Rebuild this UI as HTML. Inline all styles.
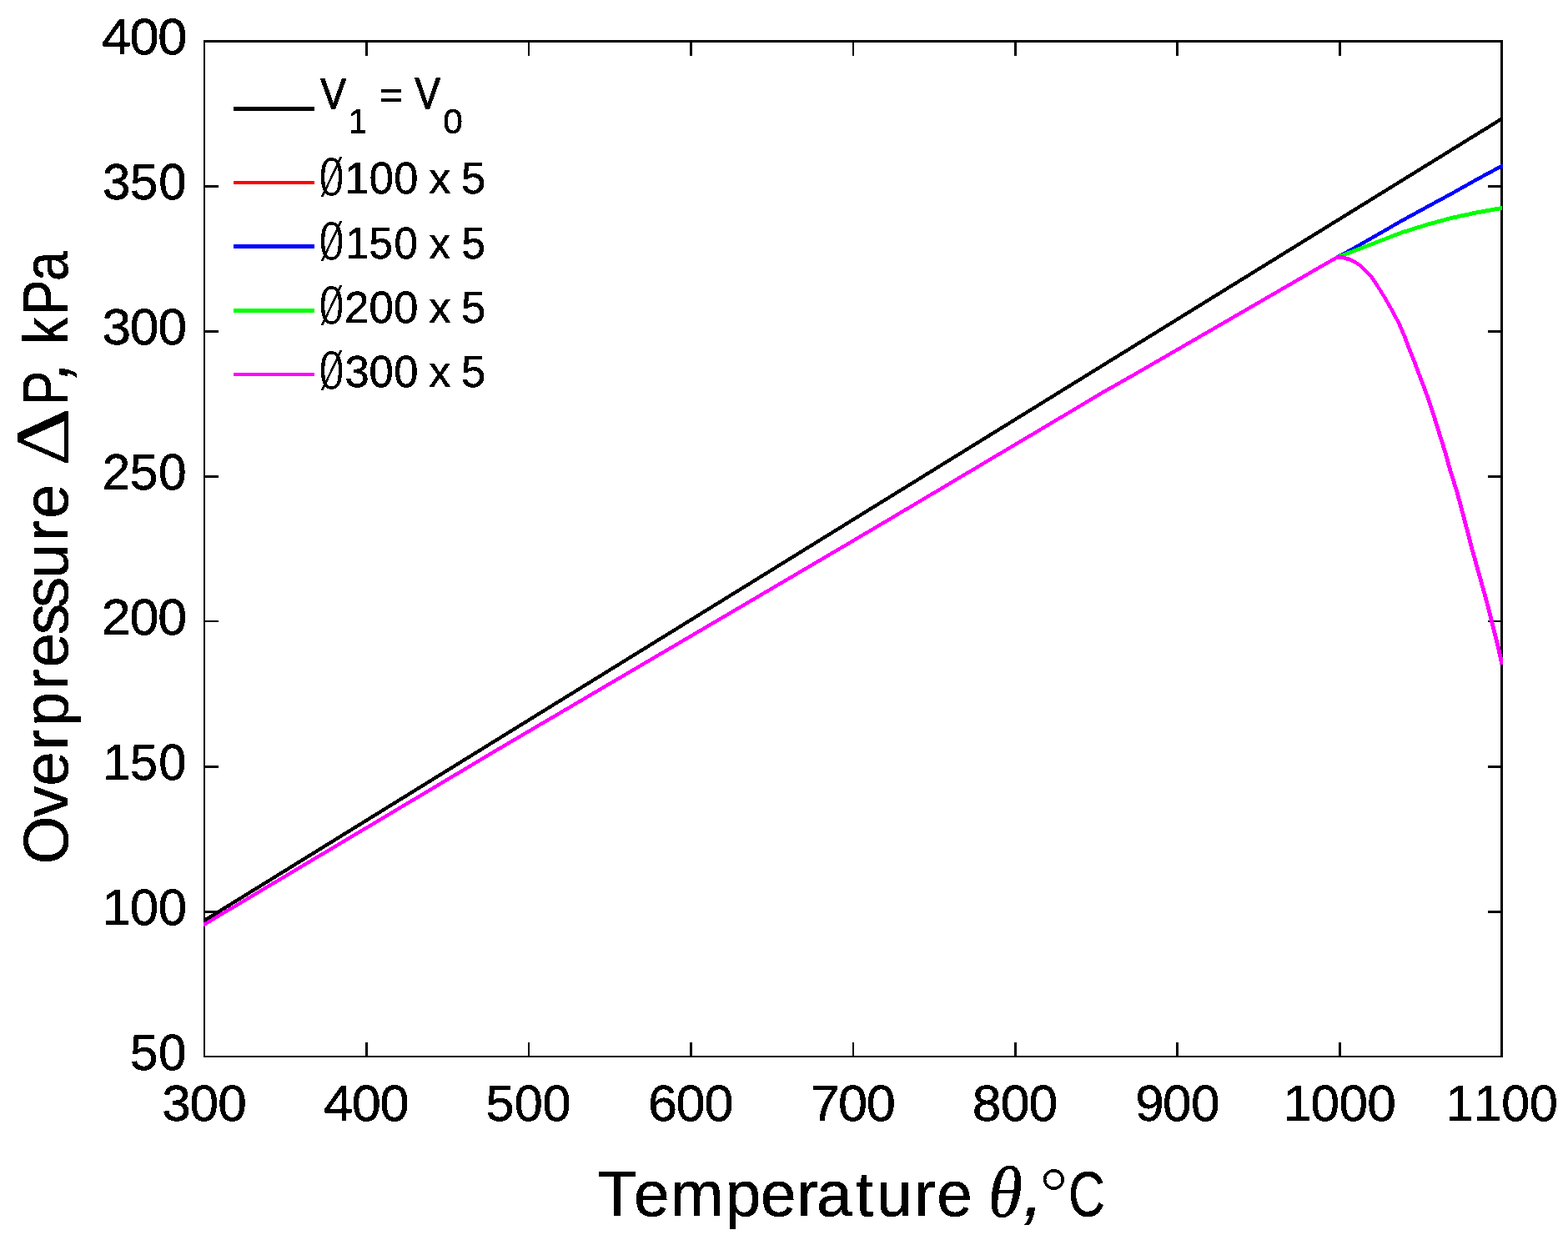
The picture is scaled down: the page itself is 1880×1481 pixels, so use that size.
<!DOCTYPE html>
<html lang="en"><head><meta charset="utf-8"><title>Overpressure vs temperature</title>
<style>
html,body{margin:0;padding:0;background:#fff;}
body{width:1880px;height:1481px;overflow:hidden;}
svg{display:block;}
text{font-family:"Liberation Sans",sans-serif;fill:#000;stroke:#000;stroke-width:0.5px;font-kerning:none;white-space:pre;}
.thin{stroke:none;}
.osl{stroke-width:0.6px;}
.vb{stroke-width:1.3px;}
.ax{fill:#000;shape-rendering:crispEdges;}
.ln{stroke:none;shape-rendering:crispEdges;}
</style></head><body>
<svg xmlns="http://www.w3.org/2000/svg" width="1880" height="1481" viewBox="0 0 1880 1481">
<rect x="0" y="0" width="1880" height="1481" fill="#fff"/>
<g class="ax">
<rect x="244" y="48" width="1558" height="3"/>
<rect x="244" y="1266" width="1558" height="2"/>
<rect x="244" y="48" width="2" height="1220"/>
<rect x="1799" y="48" width="3" height="1220"/>
<rect x="438" y="1250" width="3" height="16"/>
<rect x="438" y="51" width="3" height="16"/>
<rect x="633" y="1250" width="2" height="16"/>
<rect x="633" y="51" width="2" height="16"/>
<rect x="827" y="1250" width="3" height="16"/>
<rect x="827" y="51" width="3" height="16"/>
<rect x="1022" y="1250" width="2" height="16"/>
<rect x="1022" y="51" width="2" height="16"/>
<rect x="1216" y="1250" width="3" height="16"/>
<rect x="1216" y="51" width="3" height="16"/>
<rect x="1410" y="1250" width="3" height="16"/>
<rect x="1410" y="51" width="3" height="16"/>
<rect x="1605" y="1250" width="3" height="16"/>
<rect x="1605" y="51" width="3" height="16"/>
<rect x="246" y="1092" width="16" height="3"/>
<rect x="1784" y="1092" width="15" height="3"/>
<rect x="246" y="918" width="16" height="3"/>
<rect x="1784" y="918" width="15" height="3"/>
<rect x="246" y="744" width="16" height="2"/>
<rect x="1784" y="744" width="15" height="2"/>
<rect x="246" y="570" width="16" height="3"/>
<rect x="1784" y="570" width="15" height="3"/>
<rect x="246" y="396" width="16" height="3"/>
<rect x="1784" y="396" width="15" height="3"/>
<rect x="246" y="222" width="16" height="3"/>
<rect x="1784" y="222" width="15" height="3"/>
</g>
<defs><filter id="bw" filterUnits="userSpaceOnUse" x="0" y="0" width="1880" height="1481" color-interpolation-filters="sRGB"><feComponentTransfer><feFuncA type="discrete" tableValues="0 1"/></feComponentTransfer></filter></defs>
<defs><clipPath id="c"><rect x="243" y="48" width="1559" height="1220"/></clipPath><clipPath id="cg"><rect x="243" y="48" width="1558" height="1220"/></clipPath></defs>
<g class="ln" clip-path="url(#c)">
<path fill="#000" d="M244.80,1101.53 1800.50,140.02 1800.50,145.02 244.80,1106.53ZM1800.50,140.02 1803.00,140.02 1803.00,145.02 1800.50,145.02Z"/>
<path fill="#f00" d="M244.20,1106.57 300.50,1073.00 300.50,1078.00 244.20,1111.57ZM300.50,1073.00 600.50,894.10 600.50,899.10 300.50,1078.00ZM600.50,894.10 1020.50,647.40 1020.50,652.40 600.50,899.10ZM1020.50,647.40 1100.50,600.00 1100.50,605.00 1020.50,652.40ZM1100.50,600.00 1300.50,481.05 1300.50,486.05 1100.50,605.00ZM1300.50,481.05 1320.50,469.00 1320.50,474.00 1300.50,486.05ZM1320.50,469.00 1360.50,446.40 1360.50,451.40 1320.50,474.00ZM1360.50,446.40 1580.50,319.00 1580.50,324.00 1360.50,451.40ZM1580.50,319.00 1603.30,306.00 1603.30,311.00 1580.50,324.00ZM1603.30,306.00 1620.50,296.80 1620.50,301.80 1603.30,311.00ZM1620.50,296.80 1680.00,262.60 1680.00,267.60 1620.50,301.80ZM1680.00,262.60 1710.30,246.00 1710.30,251.00 1680.00,267.60ZM1710.30,246.00 1740.50,229.70 1740.50,234.70 1710.30,251.00ZM1740.50,229.70 1770.00,213.00 1770.00,218.00 1740.50,234.70ZM1770.00,213.00 1800.50,196.70 1800.50,201.70 1770.00,218.00ZM1800.50,196.70 1803.00,196.70 1803.00,201.70 1800.50,201.70Z"/>
<path fill="#00f" d="M244.20,1106.57 300.50,1073.00 300.50,1078.00 244.20,1111.57ZM300.50,1073.00 600.50,894.10 600.50,899.10 300.50,1078.00ZM600.50,894.10 1020.50,647.40 1020.50,652.40 600.50,899.10ZM1020.50,647.40 1100.50,600.00 1100.50,605.00 1020.50,652.40ZM1100.50,600.00 1300.50,481.05 1300.50,486.05 1100.50,605.00ZM1300.50,481.05 1320.50,469.00 1320.50,474.00 1300.50,486.05ZM1320.50,469.00 1360.50,446.40 1360.50,451.40 1320.50,474.00ZM1360.50,446.40 1580.50,319.00 1580.50,324.00 1360.50,451.40ZM1580.50,319.00 1603.30,306.00 1603.30,311.00 1580.50,324.00ZM1603.30,306.00 1620.50,296.80 1620.50,301.80 1603.30,311.00ZM1620.50,296.80 1680.00,262.60 1680.00,267.60 1620.50,301.80ZM1680.00,262.60 1710.30,246.00 1710.30,251.00 1680.00,267.60ZM1710.30,246.00 1740.50,229.70 1740.50,234.70 1710.30,251.00ZM1740.50,229.70 1770.00,213.00 1770.00,218.00 1740.50,234.70ZM1770.00,213.00 1800.50,196.70 1800.50,201.70 1770.00,218.00ZM1800.50,196.70 1803.00,196.70 1803.00,201.70 1800.50,201.70Z"/>
</g>
<path class="ln" fill="#0f0" clip-path="url(#cg)" d="M244.20,1106.57 300.50,1073.00 300.50,1078.00 244.20,1111.57ZM300.50,1073.00 600.50,894.10 600.50,899.10 300.50,1078.00ZM600.50,894.10 1020.50,647.40 1020.50,652.40 600.50,899.10ZM1020.50,647.40 1100.50,600.00 1100.50,605.00 1020.50,652.40ZM1100.50,600.00 1300.50,481.05 1300.50,486.05 1100.50,605.00ZM1300.50,481.05 1320.50,469.00 1320.50,474.00 1300.50,486.05ZM1320.50,469.00 1360.50,446.40 1360.50,451.40 1320.50,474.00ZM1360.50,446.40 1580.50,319.00 1580.50,324.00 1360.50,451.40ZM1580.50,319.00 1603.30,306.00 1603.30,311.00 1580.50,324.00ZM1603.30,306.00 1620.50,299.60 1620.50,304.60 1603.30,311.00ZM1620.50,299.60 1680.00,276.60 1680.00,281.60 1620.50,304.60ZM1680.00,276.60 1710.30,267.10 1710.30,272.10 1680.00,281.60ZM1710.30,267.10 1740.50,258.80 1740.50,263.80 1710.30,272.10ZM1740.50,258.80 1770.00,252.50 1770.00,257.50 1740.50,263.80ZM1770.00,252.50 1800.50,247.00 1800.50,252.00 1770.00,257.50ZM1800.50,247.00 1803.00,247.00 1803.00,252.00 1800.50,252.00Z"/>
<path class="ln" fill="#f0f" clip-path="url(#c)" d="M244.20,1106.57 300.50,1073.00 300.50,1078.00 244.20,1111.57ZM300.50,1073.00 600.50,894.10 600.50,899.10 300.50,1078.00ZM600.50,894.10 1020.50,647.40 1020.50,652.40 600.50,899.10ZM1020.50,647.40 1100.50,600.00 1100.50,605.00 1020.50,652.40ZM1100.50,600.00 1300.50,481.05 1300.50,486.05 1100.50,605.00ZM1300.50,481.05 1320.50,469.00 1320.50,474.00 1300.50,486.05ZM1320.50,469.00 1360.50,446.40 1360.50,451.40 1320.50,474.00ZM1360.50,446.40 1580.50,319.00 1580.50,324.00 1360.50,451.40ZM1580.50,319.00 1603.30,306.00 1603.30,311.00 1580.50,324.00ZM1603.30,306.00 1609.80,306.00 1609.80,311.00 1603.30,311.00ZM1609.80,306.00 1612.70,307.00 1612.70,312.00 1609.80,311.00ZM1612.70,307.00 1616.10,308.00 1616.10,313.00 1612.70,312.00ZM1616.10,308.00 1619.00,309.00 1619.00,314.00 1616.10,313.00ZM1619.00,309.00 1624.80,312.00 1624.80,317.00 1619.00,314.00ZM1624.80,312.00 1631.30,316.20 1631.30,321.20 1624.80,317.00ZM1631.30,316.20 1637.80,322.30 1637.80,327.30 1631.30,321.20ZM1635.30,324.80 1640.30,324.80 1646.80,332.00 1641.80,332.00ZM1641.80,332.00 1646.80,332.00 1652.20,340.00 1647.20,340.00ZM1647.20,340.00 1652.20,340.00 1662.40,356.20 1657.40,356.20ZM1657.40,356.20 1662.40,356.20 1671.70,372.40 1666.70,372.40ZM1666.70,372.40 1671.70,372.40 1680.20,388.60 1675.20,388.60ZM1675.20,388.60 1680.20,388.60 1687.10,404.80 1682.10,404.80ZM1682.10,404.80 1687.10,404.80 1693.20,421.00 1688.20,421.00ZM1688.20,421.00 1693.20,421.00 1699.60,437.20 1694.60,437.20ZM1694.60,437.20 1699.60,437.20 1705.70,453.50 1700.70,453.50ZM1700.70,453.50 1705.70,453.50 1710.60,466.20 1705.60,466.20ZM1705.60,466.20 1710.60,466.20 1716.40,482.40 1711.40,482.40ZM1711.40,482.40 1716.40,482.40 1721.70,498.60 1716.70,498.60ZM1716.70,498.60 1721.70,498.60 1726.70,514.80 1721.70,514.80ZM1721.70,514.80 1726.70,514.80 1731.80,531.00 1726.80,531.00ZM1726.80,531.00 1731.80,531.00 1736.70,547.20 1731.70,547.20ZM1731.70,547.20 1736.70,547.20 1741.10,563.50 1736.10,563.50ZM1736.10,563.50 1741.10,563.50 1745.20,576.20 1740.20,576.20ZM1740.20,576.20 1745.20,576.20 1750.10,592.40 1745.10,592.40ZM1745.10,592.40 1750.10,592.40 1754.50,608.60 1749.50,608.60ZM1749.50,608.60 1754.50,608.60 1758.70,624.80 1753.70,624.80ZM1753.70,624.80 1758.70,624.80 1763.00,641.00 1758.00,641.00ZM1758.00,641.00 1763.00,641.00 1767.10,657.20 1762.10,657.20ZM1762.10,657.20 1767.10,657.20 1771.70,673.50 1766.70,673.50ZM1766.70,673.50 1771.70,673.50 1773.40,680.00 1768.40,680.00ZM1768.40,680.00 1773.40,680.00 1778.00,696.20 1773.00,696.20ZM1773.00,696.20 1778.00,696.20 1782.50,712.40 1777.50,712.40ZM1777.50,712.40 1782.50,712.40 1786.90,728.60 1781.90,728.60ZM1781.90,728.60 1786.90,728.60 1791.00,744.80 1786.00,744.80ZM1786.00,744.80 1791.00,744.80 1795.00,761.00 1790.00,761.00ZM1790.00,761.00 1795.00,761.00 1799.10,777.20 1794.10,777.20ZM1794.10,777.20 1799.10,777.20 1802.70,793.50 1797.70,793.50ZM1797.70,793.50 1802.70,793.50 1803.40,796.70 1798.40,796.70Z"/>
<path fill="none" stroke="#f0f" stroke-width="4.25" stroke-linejoin="round" shape-rendering="crispEdges" clip-path="url(#c)" d="M1603.30,308.50 L1609.80,308.50 L1612.70,309.50 L1616.10,310.50 L1619.00,311.50 L1624.80,314.50 L1631.30,318.70 L1637.80,324.80 L1644.30,332.00 L1649.70,340.00 L1659.90,356.20 L1669.20,372.40 L1677.70,388.60 L1684.60,404.80 L1690.70,421.00 L1697.10,437.20 L1703.20,453.50 L1708.10,466.20 L1713.90,482.40 L1719.20,498.60 L1724.20,514.80 L1729.30,531.00 L1734.20,547.20 L1738.60,563.50 L1742.70,576.20 L1747.60,592.40 L1752.00,608.60 L1756.20,624.80 L1760.50,641.00 L1764.60,657.20 L1769.20,673.50 L1770.90,680.00 L1775.50,696.20 L1780.00,712.40 L1784.40,728.60 L1788.50,744.80 L1792.50,761.00 L1796.60,777.20 L1800.20,793.50 L1800.90,796.70"/>
<rect x="280" y="128" width="97" height="5" fill="#000" shape-rendering="crispEdges"/>
<rect x="280" y="217" width="97" height="4" fill="#f00" shape-rendering="crispEdges"/>
<rect x="280" y="293" width="97" height="5" fill="#00f" shape-rendering="crispEdges"/>
<rect x="280" y="370" width="97" height="5" fill="#0f0" shape-rendering="crispEdges"/>
<rect x="280" y="447" width="97" height="4" fill="#f0f" shape-rendering="crispEdges"/>
<g filter="url(#bw)">
<g>
<text transform="translate(0,1344.30) scale(1.0051,1)" x="193.21 226.37 259.99" font-size="61.8">300</text>
<text transform="translate(0,1344.30) scale(1.0221,1)" x="379.70 412.55 445.61" font-size="61.8">400</text>
<text transform="translate(0,1344.30) scale(0.9900,1)" x="588.36 622.89 657.03" font-size="61.8">500</text>
<text transform="translate(0,1344.30) scale(1.0178,1)" x="763.36 796.44 829.63" font-size="61.8">600</text>
<text transform="translate(0,1344.30) scale(1.0224,1)" x="950.42 982.99 1016.04" font-size="61.8">700</text>
<text transform="translate(0,1344.30) scale(1.0119,1)" x="1152.14 1185.53 1218.93" font-size="61.8">800</text>
<text transform="translate(0,1344.30) scale(1.0033,1)" x="1356.86 1389.53 1423.21" font-size="61.8">900</text>
<text transform="translate(0,1344.30) scale(1.0067,1)" x="1528.11 1561.14 1594.70 1628.27" font-size="61.8">1000</text>
<text transform="translate(0,1344.30) scale(0.9855,1)" x="1758.77 1793.06 1826.79 1861.07" font-size="61.8">1100</text>
<text transform="translate(0,1282.60) scale(0.9714,1)" x="160.54 195.73" font-size="61.8">50</text>
<text transform="translate(0,1108.67) scale(0.9998,1)" x="122.64 155.90 189.69" font-size="61.8">100</text>
<text transform="translate(0,934.74) scale(0.9615,1)" x="128.24 162.38 197.93" font-size="61.8">150</text>
<text transform="translate(0,760.81) scale(1.0161,1)" x="119.95 153.12 186.38" font-size="61.8">200</text>
<text transform="translate(0,586.89) scale(0.9785,1)" x="125.21 159.26 194.20" font-size="61.8">250</text>
<text transform="translate(0,412.96) scale(1.0051,1)" x="121.82 154.98 188.60" font-size="61.8">300</text>
<text transform="translate(0,239.03) scale(0.9680,1)" x="127.14 161.17 196.49" font-size="61.8">350</text>
<text transform="translate(0,65.10) scale(1.0221,1)" x="119.27 152.11 185.17" font-size="61.8">400</text>
</g>
<g>
<text class="vb" transform="translate(384.47,130.40) scale(0.8943,1)" font-size="50.9">V</text>
<text transform="translate(418.06,159.60) scale(0.9052,1)" font-size="43.3">1</text>
<text transform="translate(454.66,129.60) scale(1.0743,1)" font-size="45.6">=</text>
<text class="vb" transform="translate(497.47,130.40) scale(0.8913,1)" font-size="50.9">V</text>
<text transform="translate(531.19,159.60) scale(0.9807,1)" font-size="43.3">0</text>
<text class="osl" transform="translate(383.50,233.85) scale(0.5806,1)" font-size="67" style='font-family:"Liberation Serif",serif'>Ø</text>
<text transform="translate(0,232.20) scale(0.9837,1)" x="420.46 450.01 480.07 509.20 522.83 548.29 562.27" font-size="53.2">100 x 5</text>
<text class="osl" transform="translate(383.50,311.15) scale(0.5806,1)" font-size="67" style='font-family:"Liberation Serif",serif'>Ø</text>
<text transform="translate(0,309.50) scale(0.9605,1)" x="430.95 460.83 491.98 521.63 535.73 561.67 576.15" font-size="53.2">150 x 5</text>
<text class="osl" transform="translate(383.50,388.45) scale(0.5806,1)" font-size="67" style='font-family:"Liberation Serif",serif'>Ø</text>
<text transform="translate(0,386.80) scale(0.9939,1)" x="415.55 445.23 474.98 503.89 517.31 542.58 556.33" font-size="53.2">200 x 5</text>
<text class="osl" transform="translate(383.50,465.65) scale(0.5806,1)" font-size="67" style='font-family:"Liberation Serif",serif'>Ø</text>
<text transform="translate(0,464.00) scale(0.9875,1)" x="418.67 448.21 478.15 507.20 520.74 546.14 560.03" font-size="53.2">300 x 5</text>
</g>
<g>
<text transform="translate(0,1458.00) scale(0.9996,1)" x="717.13 760.37 804.02 870.04 912.28 955.95 979.49 1026.23 1051.53 1096.71 1123.60" font-size="76.6">Temperature</text>
<text transform="translate(1184.75,1459.00) scale(0.9702,1)" font-size="86.6" style='font-family:"Liberation Serif",serif' font-style="italic">θ</text>
<text transform="translate(1226.74,1458.00) scale(0.9929,1)" font-size="87" font-style="italic">,</text>
<text class="thin" transform="translate(1240.04,1469.0) scale(1.0090,1)" font-size="93" style='font-family:"DejaVu Sans",sans-serif' font-weight="200">°</text>
<text transform="translate(1281.07,1458.00) scale(0.7916,1)" font-size="76.6">C</text>
</g>
<g>
<text transform="translate(81.30,1400.00) rotate(-90) scale(0.9696,1)" x="374.93 433.10 471.57 516.13 545.45 590.76 618.44 658.77 692.17 728.55 774.65 802.34" font-size="76.6">Overpressure</text>
<text class="thin" transform="translate(81.90,559.26) rotate(-90) scale(1.1852,1)" font-size="92.2" style='font-family:"Liberation Serif",serif'>Δ</text>
<text transform="translate(81.30,485.44) rotate(-90) scale(0.7947,1)" font-size="76.6">P</text>
<text transform="translate(81.30,454.20) rotate(-90) scale(0.8888,1)" font-size="87" font-style="italic">,</text>
<text transform="translate(81.30,1400.00) rotate(-90) scale(0.8365,1)" x="1180.08 1221.78 1270.80" font-size="76.6">kPa</text>
</g>
</g>
</svg>
</body></html>
